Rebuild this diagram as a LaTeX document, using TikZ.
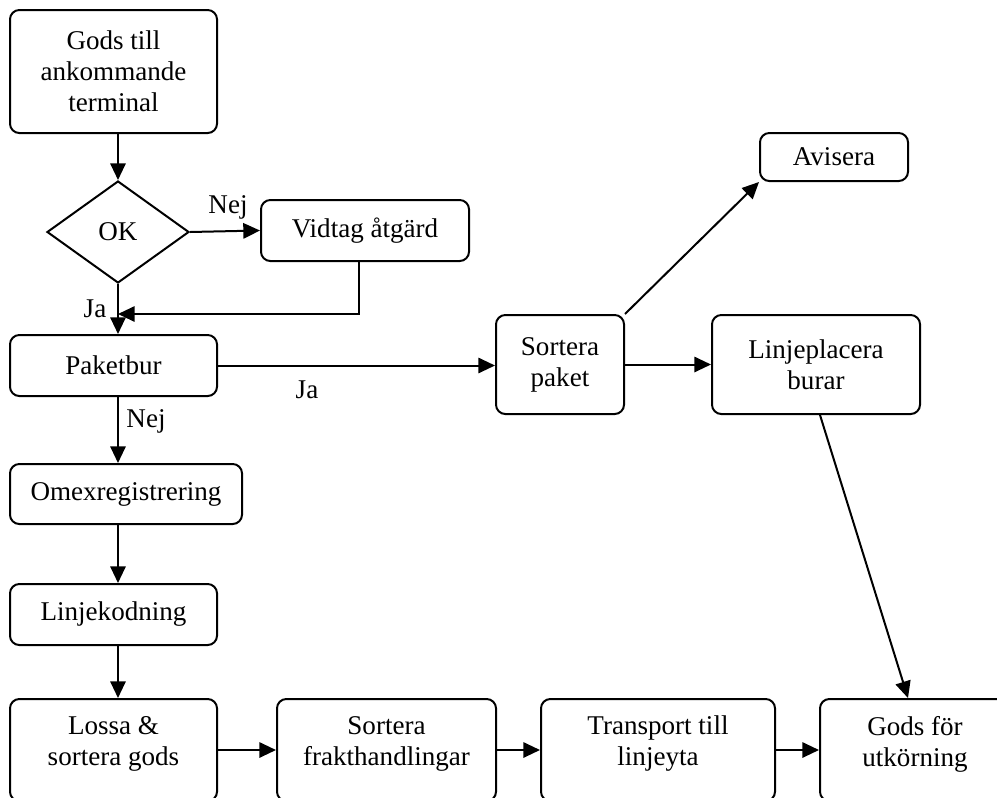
\documentclass[tikz,border=0pt]{standalone}
\usepackage{fontspec}
\setmainfont{Liberation Serif}
\usetikzlibrary{arrows.meta,shapes.geometric}
\begin{document}
\begin{tikzpicture}[x=0.75pt,y=-0.75pt,
  every node/.style={font=\fontsize{20.3pt}{23.3pt}\selectfont},
  sz/.style 2 args={minimum width=#1*0.75pt, minimum height=#2*0.75pt},
  box/.style={draw, line width=1.5pt, rounded corners=7pt, align=center, inner sep=0pt},
  lowtext/.style={text depth=13.5pt},
  decision/.style={draw, diamond, line width=1.5pt, inner sep=0pt},
  arr/.style={line width=1.5pt, -{Triangle[length=12.5pt,width=11.5pt]}},
  lbl/.style={inner sep=0pt}]
\useasboundingbox (0,0) rectangle (997,797);
\clip (0,0) rectangle (997,797);

% left column
\node[box, sz={207}{123}] (start) at (113.5,71.5) {Gods till\\ankommande\\terminal};
\node[decision, sz={142}{102}] (ok) at (118,232) {OK};
\node[box, sz={208}{61}] (vidtag) at (365,230.5) {Vidtag åtgärd};
\node[box, sz={207}{61}] (paketbur) at (113.5,365.5) {Paketbur};
\node[box, sz={232}{60}] (omex) at (126,494) {Omexregistrering};
\node[box, sz={207}{61}] (linjekod) at (113.5,614.5) {Linjekodning};

% bottom row
\node[box, lowtext, sz={207}{102}] (lossa) at (113.5,750) {Lossa \&\\sortera gods};
\node[box, lowtext, sz={219}{102}] (sortfrakt) at (386.5,750) {Sortera\\frakthandlingar};
\node[box, lowtext, sz={234}{102}] (transport) at (658,750) {Transport till\\linjeyta};
\node[box, lowtext, sz={190}{102}] (godsfor) at (915,750) {Gods för\\utkörning};

% right branch
\node[box, sz={128}{99}] (sortpak) at (560,364.5) {Sortera\\paket};
\node[box, sz={208}{99}] (linjepl) at (816,364.5) {Linjeplacera\\burar};
\node[box, sz={148}{48}] (avisera) at (834,157) {Avisera};

% edge labels
\node[lbl] (lnej1) at (228,207) {Nej};
\node[lbl] (lja1) at (95,309) {Ja};
\node[lbl] (lja2) at (307,390) {Ja};
\node[lbl] (lnej2) at (146,421) {Nej};

\coordinate (ret) at (359,314);

% connectors
\draw[arr] (start.south -| ok.north) -- (ok.north);
\draw[arr] (ok.east) -- (vidtag.west);
\draw[arr] (vidtag.south -| ret) -- (ret) -- (ret -| ok.south);
\draw[arr] (ok.south) -- (paketbur.north -| ok.south);
\draw[arr] (paketbur.east) -- (paketbur.east -| sortpak.west);
\draw[arr] (sortpak.north east) -- (avisera.south west);
\draw[arr] (sortpak.east) -- (linjepl.west);
\draw[arr] ([xshift=3pt]linjepl.south) -- ([xshift=-5.25pt]godsfor.north);
\draw[arr] (paketbur.south -| ok.south) -- (omex.north -| ok.south);
\draw[arr] (omex.south -| ok.south) -- (linjekod.north -| ok.south);
\draw[arr] (linjekod.south -| ok.south) -- (lossa.north -| ok.south);
\draw[arr] (lossa.east) -- (sortfrakt.west);
\draw[arr] (sortfrakt.east) -- (transport.west);
\draw[arr] (transport.east) -- (godsfor.west);
\end{tikzpicture}
\end{document}
